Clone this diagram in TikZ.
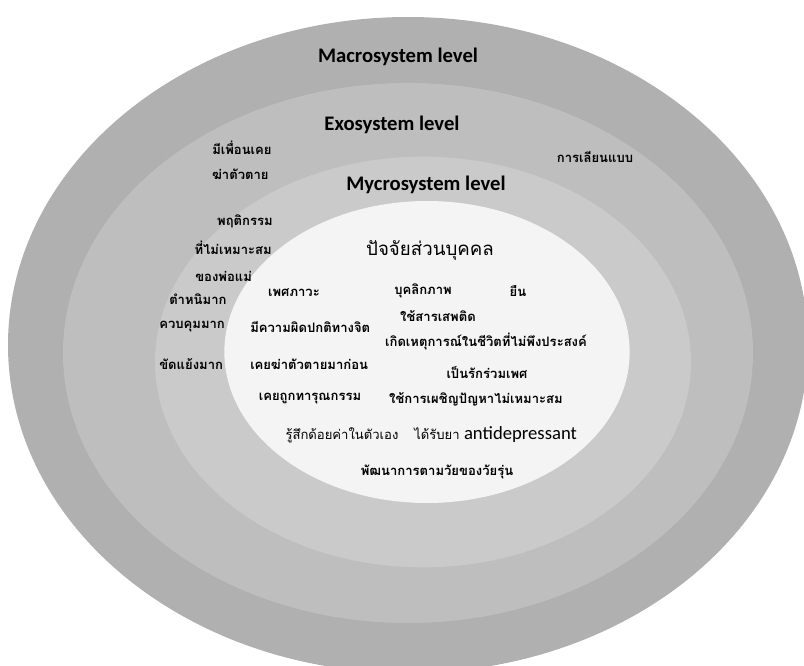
\documentclass[tikz,border=0pt]{standalone}
\usepackage{fontspec}
\setmainfont{Carlito}
\newfontfamily\thai[Script=Thai]{Loma}
\definecolor{macroc}{RGB}{176,176,176}
\definecolor{exoc}{RGB}{190,190,190}
\definecolor{mycroc}{RGB}{202,202,202}
\definecolor{innerc}{RGB}{244,244,244}
\tikzset{
  level/.style={font=\fontsize{15.5}{18}\selectfont\bfseries, inner sep=0pt},
  th/.style={font=\thai\fontsize{9.8}{11}\selectfont\bfseries, inner sep=0pt},
  thr/.style={font=\thai\fontsize{9.8}{11}\selectfont, inner sep=0pt},
  thbig/.style={font=\thai\fontsize{14}{16}\selectfont, inner sep=0pt},
}
\begin{document}
\begin{tikzpicture}[x=0.75pt,y=-0.75pt]
\useasboundingbox (0,0) rectangle (804,665);
\clip (0,0) rectangle (804,665);
\fill[white] (0,0) rectangle (804,665);
\fill[macroc] (408,345) ellipse [x radius=300pt, y radius=246pt];
\fill[exoc] (408,353) ellipse [x radius=258.75pt, y radius=202.5pt];
\fill[mycroc] (423,362) ellipse [x radius=201pt, y radius=154pt];
\fill[innerc] (427,352) ellipse [x radius=152pt, y radius=113.25pt];

\node[level] (macro) at (398,57) {Macrosystem level};
\node[level] (exo) at (392,125) {Exosystem level};
\node[level] (mycro) at (426,185) {Mycrosystem level};

\node[th, anchor=west] (e1) at (212,148) {มีเพื่อนเคย};
\node[th, anchor=west] (e2) at (212,174) {ฆ่าตัวตาย};
\node[th] (e3) at (595,157) {การเลียนแบบ};

\node[th, anchor=east] (m1) at (273,221) {พฤติกรรม};
\node[th, anchor=east] (m2) at (272,248) {ที่ไม่เหมาะสม};
\node[th, anchor=west] (m3) at (195,276) {ของพ่อแม่};
\node[th, anchor=west] (m4) at (169,299) {ตำหนิมาก};
\node[th, anchor=west] (m5) at (159,327) {ควบคุมมาก};
\node[th, anchor=west] (m6) at (159,364) {ขัดแย้งมาก};

\node[thbig] (i0) at (430,250) {ปัจจัยส่วนบุคคล};
\node[th] (i1) at (294,293) {เพศภาวะ};
\node[th] (i2) at (423,291) {บุคลิกภาพ};
\node[th] (i3) at (518,291) {ยืน};
\node[th] (i4) at (438,316) {ใช้สารเสพติด};
\node[th, anchor=west] (i5) at (250,327) {มีความผิดปกติทางจิต};
\node[th] (i6) at (486,341) {เกิดเหตุการณ์ในชีวิตที่ไม่พึงประสงค์};
\node[th, anchor=west] (i7) at (250,364) {เคยฆ่าตัวตายมาก่อน};
\node[th] (i8) at (487,372) {เป็นรักร่วมเพศ};
\node[th] (i9) at (310,399) {เคยถูกทารุณกรรม};
\node[th] (i10) at (476,399) {ใช้การเผชิญปัญหาไม่เหมาะสม};
\node[thr] (i11) at (342,435) {รู้สึกด้อยค่าในตัวเอง};
\node[thr, anchor=west] (i12) at (414,435) {ได้รับยา \fontspec{Carlito}\fontsize{14}{16}\selectfont antidepressant};
\node[th] (i13) at (437,472) {พัฒนาการตามวัยของวัยรุ่น};
\end{tikzpicture}
\end{document}
